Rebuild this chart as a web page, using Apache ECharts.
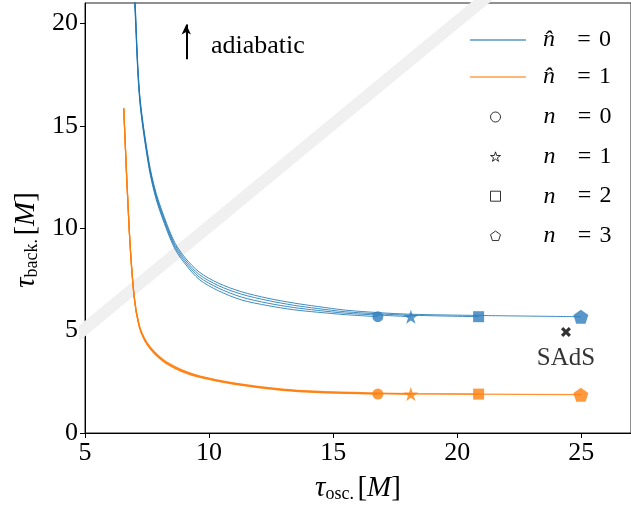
<!DOCTYPE html>
<html><head><meta charset="utf-8">
<script src="https://cdn.jsdelivr.net/npm/echarts@6/dist/echarts.min.js"></script>
<style>html,body{margin:0;padding:0;background:#fff}#c{width:631px;height:508px}</style>
</head><body><div id="c"></div>
<script>
// ---- data ----
const xTicks = [5, 10, 15, 20, 25];
const yTicks = [0, 5, 10, 15, 20];

// blue curves (n-hat = 0), one per n, each ending at its marker
const blueX0 = [6.9, 7.0, 7.2, 7.57, 7.87, 8.3, 8.64, 9.04, 9.6, 10.37, 11.3, 12.37, 13.4, 14.36, 15.5, 16.8];
const blueY0 = [23.0, 21.0, 16.3, 13.0, 11.4, 9.9, 8.95, 8.25, 7.5, 6.95, 6.5, 6.22, 6.02, 5.90, 5.78, 5.68];
const blueX1 = [6.9, 7.0, 7.2, 7.57, 7.87, 8.3, 8.64, 9.04, 9.6, 10.37, 11.3, 12.37, 13.4, 14.36, 15.5, 16.8, 18.13];
const blueY1 = [23.2, 21.2, 16.4, 13.1, 11.5, 10.0, 9.05, 8.35, 7.62, 7.08, 6.64, 6.34, 6.13, 5.99, 5.85, 5.76, 5.68];
const blueX2 = [6.9, 7.0, 7.2, 7.57, 7.87, 8.3, 8.64, 9.04, 9.6, 10.37, 11.3, 12.37, 13.4, 14.36, 15.5, 16.8, 18.13, 20.86];
const blueY2 = [23.4, 21.4, 16.5, 13.2, 11.6, 10.1, 9.15, 8.45, 7.74, 7.2, 6.78, 6.47, 6.24, 6.08, 5.92, 5.82, 5.75, 5.68];
const blueX3 = [6.9, 7.0, 7.2, 7.57, 7.87, 8.3, 8.64, 9.04, 9.6, 10.37, 11.3, 12.37, 13.4, 14.36, 15.5, 16.8, 18.13, 20.86, 24.98];
const blueY3 = [23.6, 21.6, 16.6, 13.3, 11.7, 10.2, 9.25, 8.55, 7.86, 7.32, 6.9, 6.58, 6.35, 6.18, 6.0, 5.88, 5.80, 5.74, 5.68];

// orange curves (n-hat = 1)
const orangeX0 = [6.56, 6.78, 6.98, 7.18, 7.4, 7.64, 7.95, 8.31, 8.9, 9.64, 10.97, 12.96, 14.5, 16.8];
const orangeY0 = [15.86, 9.94, 6.62, 5.2, 4.52, 4.09, 3.7, 3.36, 3.0, 2.71, 2.39, 2.08, 1.97, 1.90];
const orangeX1 = [6.56, 6.78, 6.98, 7.18, 7.4, 7.64, 7.95, 8.31, 8.9, 9.64, 10.97, 12.96, 14.5, 16.8, 18.13];
const orangeY1 = [15.86, 9.96, 6.65, 5.23, 4.55, 4.12, 3.73, 3.39, 3.03, 2.73, 2.41, 2.10, 1.99, 1.92, 1.90];
const orangeX2 = [6.56, 6.78, 6.98, 7.18, 7.4, 7.64, 7.95, 8.31, 8.9, 9.64, 10.97, 12.96, 14.5, 16.8, 18.13, 20.86];
const orangeY2 = [15.86, 9.98, 6.68, 5.26, 4.58, 4.15, 3.76, 3.42, 3.06, 2.76, 2.43, 2.12, 2.01, 1.93, 1.91, 1.90];
const orangeX3 = [6.56, 6.78, 6.98, 7.18, 7.4, 7.64, 7.95, 8.31, 8.9, 9.64, 10.97, 12.96, 14.5, 16.8, 18.13, 20.86, 24.98];
const orangeY3 = [15.86, 10.0, 6.71, 5.29, 4.61, 4.18, 3.79, 3.45, 3.09, 2.78, 2.45, 2.14, 2.03, 1.95, 1.92, 1.90, 1.87];

// markers n = 0..3
const markerX = [16.8, 18.13, 20.86, 24.98];
const blueMarkerY = [5.68, 5.68, 5.68, 5.68];
const orangeMarkerY = [1.90, 1.90, 1.90, 1.87];

// SAdS point
const sadsX = [24.38];
const sadsY = [4.93];

// adiabatic diagonal band
const diagX = [4, 27];
const diagY = [4.1, 27.1];

// adiabatic arrow
const arrowX = 9.08;
const arrowY = [18.25, 19.95];

// ---- chart ----
const BLUE = '#1f77b4', ORANGE = '#ff7f0e';
const FONT = 'Liberation Serif';
const zip = (a, b) => a.map((v, i) => [v, b[i]]);

const starPath = 'path://M0,-1L0.2245,-0.309L0.951,-0.309L0.363,0.118L0.588,0.809L0,0.382L-0.588,0.809L-0.363,0.118L-0.951,-0.309L-0.2245,-0.309Z';
const pentPath = 'path://M0,-1L0.951,-0.309L0.588,0.809L-0.588,0.809L-0.951,-0.309Z';
const squarePath = 'path://M0,0L1,0L1,1L0,1Z';
const crossPath = 'path://M0,2.2L2.2,0L5,2.8L7.8,0L10,2.2L7.2,5L10,7.8L7.8,10L5,7.2L2.2,10L0,7.8L2.8,5Z';

const markerDefs = [
  { name: 'n0', symbol: 'circle', size: 11 },
  { name: 'n1', symbol: starPath, size: [15, 14] },
  { name: 'n2', symbol: squarePath, size: 11 },
  { name: 'n3', symbol: pentPath, size: [15, 14] }
];

const lineSeries = (name, color, xs, ys, w) => ({
  name, type: 'line', data: zip(xs, ys), showSymbol: false, symbol: 'none',
  smooth: 0.3,
  lineStyle: { color, width: w, opacity: 0.85 }, itemStyle: { color },
  z: 3, silent: true, animation: false
});

const series = [
  {
    name: 'band', type: 'line', data: zip(diagX, diagY), showSymbol: false, symbol: 'none',
    lineStyle: { color: '#f0f0f0', width: 12, cap: 'butt' }, z: 1, silent: true, animation: false
  },
  lineSeries('hat0', BLUE, blueX0, blueY0, 1),
  lineSeries('hat0', BLUE, blueX1, blueY1, 1),
  lineSeries('hat0', BLUE, blueX2, blueY2, 1),
  lineSeries('hat0', BLUE, blueX3, blueY3, 1),
  lineSeries('hat1', ORANGE, orangeX0, orangeY0, 1.2),
  lineSeries('hat1', ORANGE, orangeX1, orangeY1, 1.2),
  lineSeries('hat1', ORANGE, orangeX2, orangeY2, 1.2),
  lineSeries('hat1', ORANGE, orangeX3, orangeY3, 1.2)
];

markerDefs.forEach((m, i) => {
  series.push({
    name: m.name, type: 'scatter', symbol: m.symbol, symbolSize: m.size, z: 5, animation: false,
    data: [
      { value: [markerX[i], blueMarkerY[i]], itemStyle: { color: '#2f7dbd' } },
      { value: [markerX[i], orangeMarkerY[i]], itemStyle: { color: ORANGE } }
    ]
  });
});

series.push({
  name: 'SAdS', type: 'scatter', symbol: crossPath, symbolSize: 10, z: 5, animation: false,
  itemStyle: { color: '#000' },
  data: zip(sadsX, sadsY),
  label: { show: true, position: 'bottom', distance: 9, formatter: 'SAdS', color: '#000', fontFamily: FONT, fontSize: 25 },
  markLine: {
    silent: true, symbol: ['none', 'arrow'], symbolSize: [7, 10], animation: false,
    lineStyle: { color: '#000', width: 2, type: 'solid' }, label: { show: false },
    data: [[{ coord: [arrowX, arrowY[0]] }, { coord: [arrowX, arrowY[1]] }]]
  }
});

const legendLabels = { hat0: ['n\u0302', '0'], hat1: ['n\u0302', '1'], n0: ['n', '0'], n1: ['n', '1'], n2: ['n', '2'], n3: ['n', '3'] };
const hollow = { color: '#fff', borderColor: '#000', borderWidth: 1 };

const legendRich = (padLeft) => ({
  n: { fontFamily: FONT, fontStyle: 'italic', fontSize: 24, width: 26, lineHeight: 26, color: '#000', padding: [0, 0, 0, padLeft] },
  e: { fontFamily: FONT, fontSize: 24, width: 30, align: 'center', lineHeight: 26, color: '#000' },
  d: { fontFamily: FONT, fontSize: 24, lineHeight: 26, color: '#000' }
});
const legendFmt = name => '{n|' + legendLabels[name][0] + '}{e|=}{d|' + legendLabels[name][1] + '}';

const yNameStyle = {
  padding: [0, 44, 0, 0],
  rich: {
    t: { fontFamily: FONT, fontStyle: 'italic', fontSize: 29, color: '#000' },
    s: { fontFamily: FONT, fontSize: 18, color: '#000', padding: [12, 0, 0, 0] },
    g: { fontFamily: FONT, fontSize: 14 },
    b: { fontFamily: FONT, fontSize: 29, color: '#000' },
    m: { fontFamily: FONT, fontStyle: 'italic', fontSize: 29, color: '#000' }
  }
};
const xNameStyle = { rich: yNameStyle.rich };

const chart = echarts.init(document.getElementById('c'), null, { renderer: 'canvas' });
chart.setOption({
  animation: false,
  backgroundColor: '#fff',
  grid: { left: 85, right: -5, top: 3, bottom: 74, show: true, borderColor: '#222', borderWidth: 1, backgroundColor: 'transparent' },
  xAxis: {
    type: 'value', min: 5, max: 27,
    axisLine: { show: true, onZero: false, lineStyle: { color: '#000', width: 1 } },
    axisTick: { show: true, length: 5, lineStyle: { color: '#000' }, customValues: xTicks },
    axisLabel: { customValues: xTicks, color: '#000', fontFamily: FONT, fontSize: 26, margin: 7 },
    splitLine: { show: false },
    name: '{t|τ}{s|osc.}{g| }{b|[}{m|M}{b|]}', nameLocation: 'middle', nameGap: 40,
    nameTextStyle: xNameStyle
  },
  yAxis: {
    type: 'value', min: 0, max: 21,
    axisLine: { show: true, onZero: false, lineStyle: { color: '#000', width: 1 } },
    axisTick: { show: true, length: 5, lineStyle: { color: '#000' }, customValues: yTicks },
    axisLabel: { customValues: yTicks, color: '#000', fontFamily: FONT, fontSize: 26, margin: 7 },
    splitLine: { show: false },
    name: '{t|τ}{s|back.}{g| }{b|[}{m|M}{b|]}', nameLocation: 'middle', nameGap: 44, nameRotate: 90,
    nameTextStyle: yNameStyle
  },
  legend: [
    {
      orient: 'vertical', left: 465, top: 23, itemGap: 13, itemWidth: 56, itemHeight: 1.4,
      icon: 'rect', selectedMode: false,
      data: [
        { name: 'hat0', itemStyle: { opacity: 0.75 } },
        { name: 'hat1', itemStyle: { opacity: 0.75 } }
      ],
      formatter: legendFmt,
      textStyle: { rich: legendRich(12) }
    },
    {
      orient: 'vertical', left: 485, top: 100, itemGap: 15.6, itemWidth: 10, itemHeight: 10,
      selectedMode: false,
      data: [
        { name: 'n0', icon: 'circle', itemStyle: hollow },
        { name: 'n1', icon: starPath, itemStyle: hollow },
        { name: 'n2', icon: squarePath, itemStyle: hollow },
        { name: 'n3', icon: pentPath, itemStyle: hollow }
      ],
      formatter: legendFmt,
      textStyle: { rich: legendRich(38) }
    }
  ],
  graphic: [
    { type: 'text', style: { x: 211, y: 46, text: 'adiabatic', font: '26px "Liberation Serif"', fill: '#000', verticalAlign: 'middle' } }
  ],
  series
});
</script>
</body></html>
